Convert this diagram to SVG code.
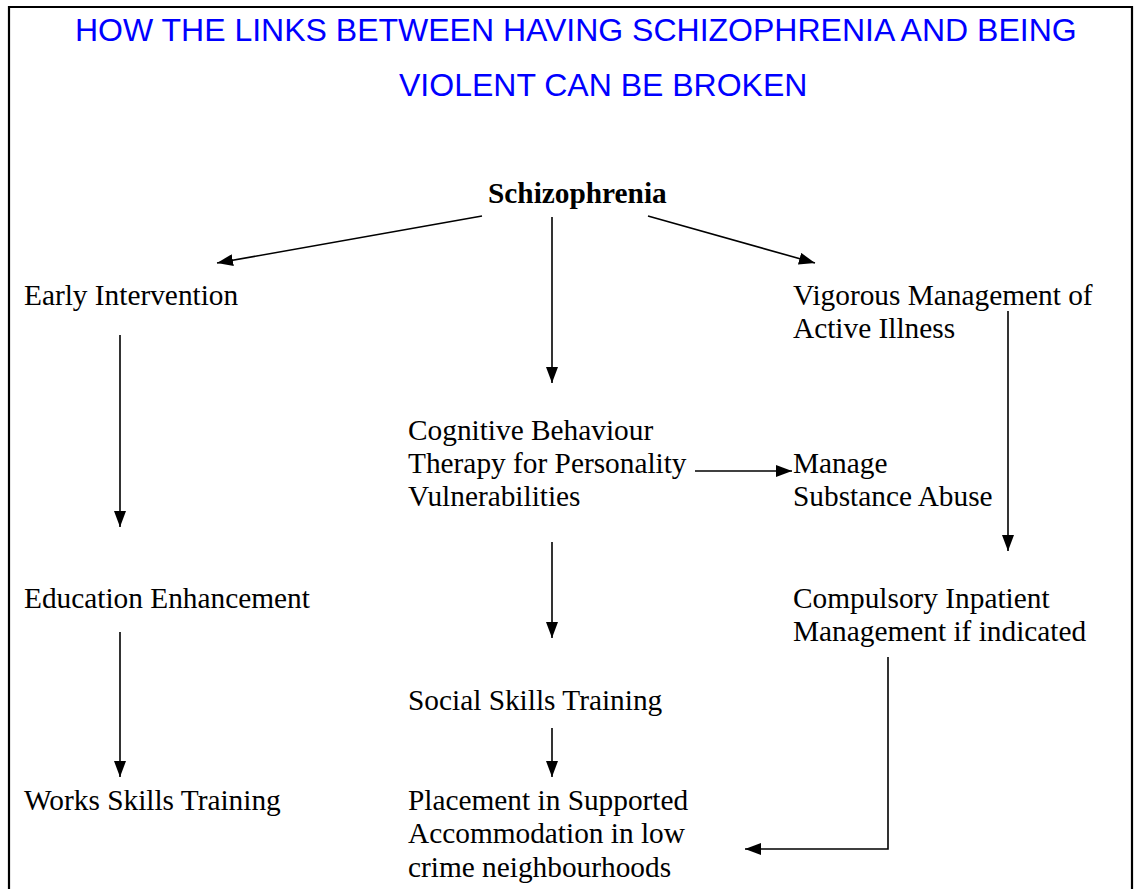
<svg xmlns="http://www.w3.org/2000/svg" width="1136" height="889" viewBox="0 0 1136 889">
<defs>
<style>
.t{font-family:"Liberation Serif","Times New Roman",serif;font-size:29.33px;fill:#000}
.b{font-weight:bold}
.h{font-family:"Liberation Sans",Arial,sans-serif;font-size:32px;fill:#0000ff}
.c{stroke:#000;stroke-width:1.6;fill:none}
</style>
<marker id="ah" viewBox="0 0 16 12" refX="16" refY="6" markerWidth="16" markerHeight="12" markerUnits="userSpaceOnUse" orient="auto">
<path d="M0,0 L16,6 L0,12 z" fill="#000"/>
</marker>
</defs>
<rect width="1136" height="889" fill="#fff"/>
<path d="M9,889 V7 H1132 V889" fill="none" stroke="#000" stroke-width="2.2"/>
<g id="title">
<text class="h" x="75" y="41">HOW THE LINKS BETWEEN HAVING SCHIZOPHRENIA AND BEING</text>
<text class="h" x="399" y="96">VIOLENT CAN BE BROKEN</text>
</g>
<g id="connectors">
<line class="c" x1="482" y1="216" x2="217" y2="263" marker-end="url(#ah)"/>
<line class="c" x1="552" y1="217" x2="552" y2="383" marker-end="url(#ah)"/>
<line class="c" x1="648" y1="216" x2="815" y2="263" marker-end="url(#ah)"/>
<line class="c" x1="120" y1="335" x2="120" y2="527" marker-end="url(#ah)"/>
<line class="c" x1="120" y1="632" x2="120" y2="777" marker-end="url(#ah)"/>
<line class="c" x1="552" y1="542" x2="552" y2="638" marker-end="url(#ah)"/>
<line class="c" x1="552" y1="728" x2="552" y2="777" marker-end="url(#ah)"/>
<line class="c" x1="695" y1="471" x2="792" y2="471" marker-end="url(#ah)"/>
<line class="c" x1="1008" y1="311" x2="1008" y2="551" marker-end="url(#ah)"/>
<polyline class="c" points="888,657 888,849 745,849" marker-end="url(#ah)"/>
</g>
<g id="n-schizophrenia"><text class="t b" x="488" y="203">Schizophrenia</text></g>
<g id="n-early"><text class="t" x="24" y="305">Early Intervention</text></g>
<g id="n-vigorous"><text class="t" x="793" y="305">Vigorous Management of</text><text class="t" x="793" y="338">Active Illness</text></g>
<g id="n-cbt"><text class="t" x="408" y="440">Cognitive Behaviour</text><text class="t" x="408" y="473">Therapy for Personality</text><text class="t" x="408" y="506">Vulnerabilities</text></g>
<g id="n-substance"><text class="t" x="793" y="473">Manage</text><text class="t" x="793" y="506">Substance Abuse</text></g>
<g id="n-education"><text class="t" x="24" y="608">Education Enhancement</text></g>
<g id="n-compulsory"><text class="t" x="793" y="608">Compulsory Inpatient</text><text class="t" x="793" y="641">Management if indicated</text></g>
<g id="n-social"><text class="t" x="408" y="710">Social Skills Training</text></g>
<g id="n-works"><text class="t" x="24" y="810">Works Skills Training</text></g>
<g id="n-placement"><text class="t" x="408" y="810">Placement in Supported</text><text class="t" x="408" y="843">Accommodation in low</text><text class="t" x="408" y="877">crime neighbourhoods</text></g>
</svg>
